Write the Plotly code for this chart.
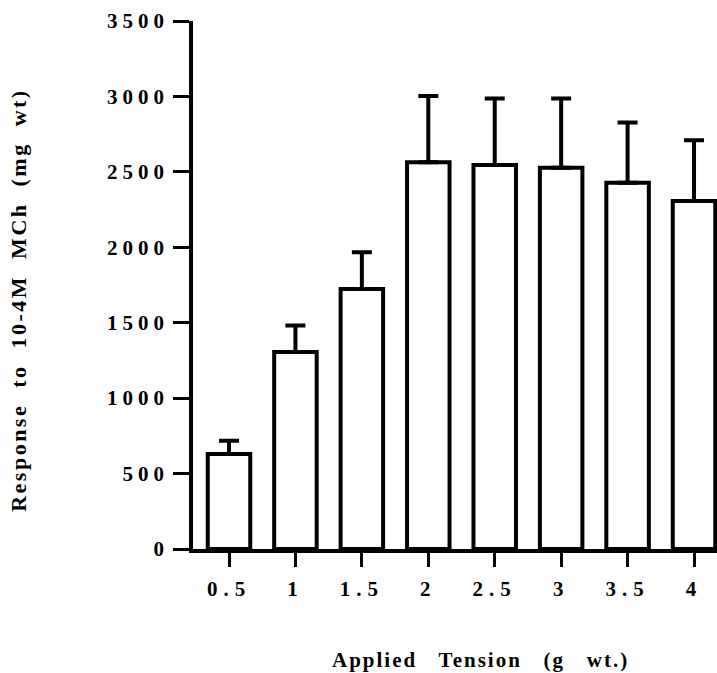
import plotly.graph_objects as go

# ---- data ----
tension = ["0.5", "1", "1.5", "2", "2.5", "3", "3.5", "4"]
response = [630, 1306, 1724, 2563, 2545, 2528, 2428, 2306]
sem = [87, 175, 243, 440, 441, 458, 399, 403]
y_ticks = [0, 500, 1000, 1500, 2000, 2500, 3000, 3500]

FONT = "Liberation Serif"


def spaced(s, ls):
    return f'<span style="letter-spacing:{ls}px">{s}</span>'


fig = go.Figure(
    go.Bar(
        x=tension,
        y=response,
        width=0.64,
        marker=dict(color="white", line=dict(color="black", width=4)),
        error_y=dict(
            type="data",
            array=sem,
            arrayminus=[0] * len(sem),
            symmetric=False,
            color="black",
            thickness=4,
            width=10,
        ),
    )
)

fig.update_layout(
    width=717,
    height=673,
    autosize=False,
    margin=dict(l=193, r=0, t=21, b=124),
    paper_bgcolor="white",
    plot_bgcolor="white",
    showlegend=False,
    font=dict(family=FONT, color="black"),
    xaxis=dict(
        type="category",
        range=[-0.542, 7.346],
        tickvals=tension,
        ticktext=[spaced(t, 6) for t in tension],
        tickfont=dict(family=FONT, size=21, color="black", weight="bold"),
        ticklabelstandoff=4,
        showline=True,
        linewidth=3.5,
        linecolor="black",
        ticks="outside",
        ticklen=14,
        tickwidth=3,
        tickcolor="black",
        showgrid=False,
        zeroline=False,
    ),
    yaxis=dict(
        range=[0, 3500],
        tickvals=y_ticks,
        ticktext=[spaced(str(v), 5) for v in y_ticks],
        tickfont=dict(family=FONT, size=21, color="black", weight="bold"),
        showline=True,
        linewidth=3.5,
        linecolor="black",
        ticks="outside",
        ticklen=16,
        tickwidth=3,
        tickcolor="black",
        showgrid=False,
        zeroline=False,
    ),
    annotations=[
        dict(
            text=spaced("Applied&nbsp;&nbsp; Tension&nbsp;&nbsp; (g&nbsp;&nbsp; wt.)", 2),
            xref="paper", yref="paper",
            x=0.548, y=-0.210,
            xanchor="center", yanchor="middle",
            showarrow=False,
            font=dict(family=FONT, size=21, color="black", weight="bold"),
        ),
        dict(
            text=spaced("Response&nbsp; to&nbsp; 10-4M&nbsp; MCh&nbsp; (mg&nbsp; wt)", 2.5),
            xref="paper", yref="paper",
            x=-0.332, y=0.472,
            xanchor="center", yanchor="middle",
            textangle=-90,
            showarrow=False,
            font=dict(family=FONT, size=22, color="black", weight="bold"),
        ),
    ],
)

fig.write_html("out.html")
